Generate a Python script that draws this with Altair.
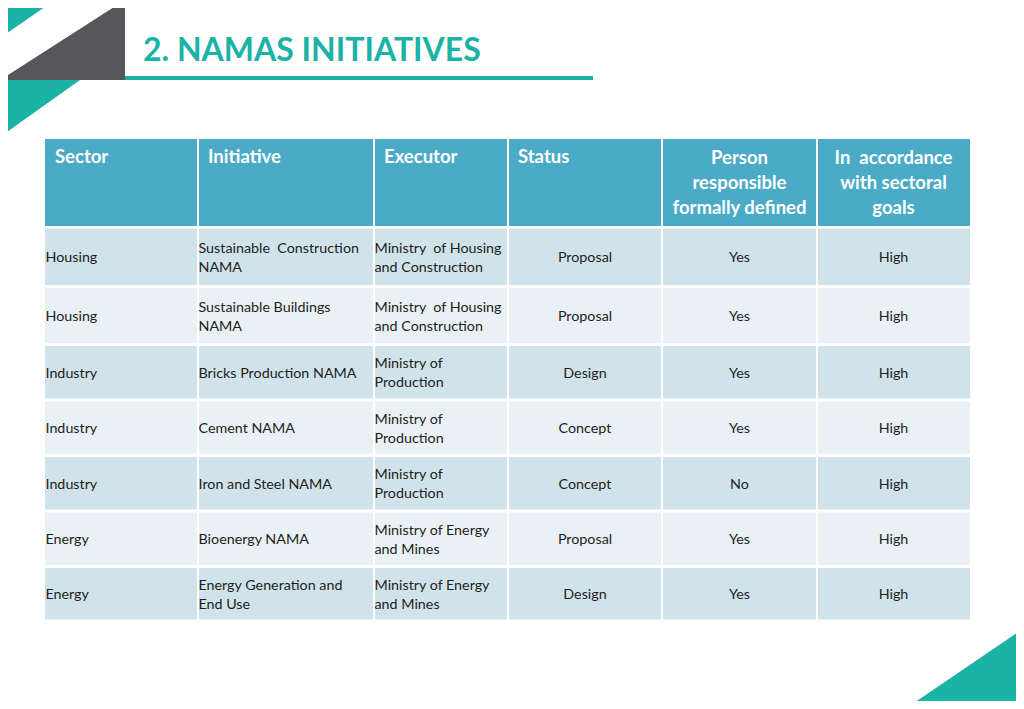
import altair as alt
import pandas as pd

# ---------------- data ----------------
title_text = "2. NAMAS INITIATIVES"
headers = ["Sector", "Initiative", "Executor", "Status",
           "Person\nresponsible\nformally defined",
           "In\u00a0 accordance\nwith sectoral\ngoals"]
sectors = ["Housing", "Housing", "Industry", "Industry", "Industry", "Energy", "Energy"]
initiatives = ["Sustainable\u00a0 Construction\nNAMA", "Sustainable Buildings\nNAMA",
               "Bricks Production NAMA", "Cement NAMA", "Iron and Steel NAMA",
               "Bioenergy NAMA", "Energy Generation and\nEnd Use"]
executors = ["Ministry\u00a0 of Housing\nand Construction", "Ministry\u00a0 of Housing\nand Construction",
             "Ministry of\nProduction", "Ministry of\nProduction", "Ministry of\nProduction",
             "Ministry of Energy\nand Mines", "Ministry of Energy\nand Mines"]
statuses = ["Proposal", "Proposal", "Design", "Concept", "Concept", "Proposal", "Design"]
persons = ["Yes", "Yes", "Yes", "Yes", "No", "Yes", "Yes"]
accordance = ["High", "High", "High", "High", "High", "High", "High"]

# ---------------- layout (page pixel space) ----------------
OFF = 8
W, H = 1008, 693
col_edges = [45, 198, 374, 508, 662, 817, 970]
header_top, header_bottom = 139, 226
row_edges = [227, 286.5, 344.5, 400, 455.5, 511, 566.5, 621]
TEAL = "#1bb3a6"
GRAY = "#56565b"
HEAD = "#4babc7"
ROW_DARK = "#d1e3ea"
ROW_LIGHT = "#e9f1f5"
FONT = "Lato"
BODY_SIZE = 14.3
BODY_LH = 19
BODY_SHIFT = 1.5
HEAD_SIZE = 18.5
HEAD_LH = 25

xs = alt.Scale(domain=[OFF, OFF + W], range=[0, W], nice=False, zero=False)
ys = alt.Scale(domain=[OFF, OFF + H], range=[0, H], nice=False, zero=False)

def X(f="x"):
    return alt.X(f"{f}:Q", scale=xs, axis=None)

def Y(f="y"):
    return alt.Y(f"{f}:Q", scale=ys, axis=None)

def first_line_y(center, text, lh):
    n = text.count("\n") + 1
    return center - (n - 1) * lh / 2

# decorative triangles as areas
shapes = []
def tri(name, pts, fill):
    for (x, y, y2) in pts:
        shapes.append(dict(shape=name, x=x, y=y, y2=y2, fill=fill))
tri("tl", [(0, 0, 38), (55, 0, 0)], TEAL)
tri("gray", [(0, 80, 80), (125, 0, 80)], GRAY)
tri("bl", [(0, 80, 137), (80, 80, 80)], TEAL)
tri("br", [(905, 709, 709), (1024, 628, 709)], TEAL)
shape_df = pd.DataFrame(shapes)

areas = alt.Chart(shape_df).mark_area(interpolate="linear", opacity=1).encode(
    x=X(), y=Y(), y2="y2:Q",
    color=alt.Color("fill:N", scale=None),
    detail="shape:N",
)

underline = alt.Chart(pd.DataFrame([dict(x=125, x2=593, y=78)])).mark_rule(
    color=TEAL, strokeWidth=4).encode(x=X(), x2="x2:Q", y=Y())

title = alt.Chart(pd.DataFrame([dict(x=143, y=51, t=title_text)])).mark_text(
    align="left", baseline="middle", font=FONT, fontWeight="bold", fontSize=32,
    color=TEAL).encode(x=X(), y=Y(), text="t:N")

# cells
cells = []
for c in range(6):
    x0 = col_edges[c] + (0 if c == 0 else 1)
    x1 = col_edges[c + 1] - (0 if c == 5 else 1)
    cells.append(dict(x=x0, x2=x1, y=header_top, y2=header_bottom, fill=HEAD))
    for r in range(7):
        cells.append(dict(x=x0, x2=x1, y=row_edges[r] + 1.5, y2=row_edges[r + 1] - 1.5,
                          fill=ROW_DARK if r % 2 == 0 else ROW_LIGHT))
cell_df = pd.DataFrame(cells)
rects = alt.Chart(cell_df).mark_rect().encode(
    x=X(), x2="x2:Q", y=Y(), y2="y2:Q", color=alt.Color("fill:N", scale=None))

# header texts
hl = pd.DataFrame([dict(x=col_edges[c] + 10, y=157, t=headers[c]) for c in range(4)])
hc = pd.DataFrame([dict(x=(col_edges[c] + col_edges[c + 1]) / 2,
                        y=first_line_y(183, headers[c], HEAD_LH), t=headers[c])
                   for c in (4, 5)])
head_left = alt.Chart(hl).mark_text(
    align="left", baseline="middle", font=FONT, fontWeight="bold", fontSize=HEAD_SIZE,
    color="white").encode(x=X(), y=Y(), text="t:N")
head_center = alt.Chart(hc).mark_text(
    align="center", baseline="middle", font=FONT, fontWeight="bold", fontSize=HEAD_SIZE,
    lineHeight=HEAD_LH, lineBreak="\n", color="white").encode(x=X(), y=Y(), text="t:N")

# body texts
left_rows, center_rows = [], []
for r in range(7):
    yc = (row_edges[r] + row_edges[r + 1]) / 2 + BODY_SHIFT
    for c, col in ((0, sectors), (1, initiatives), (2, executors)):
        left_rows.append(dict(x=col_edges[c] + 0.5,
                              y=first_line_y(yc, col[r], BODY_LH), t=col[r]))
    for c, col in ((3, statuses), (4, persons), (5, accordance)):
        center_rows.append(dict(x=(col_edges[c] + col_edges[c + 1]) / 2,
                                y=first_line_y(yc, col[r], BODY_LH), t=col[r]))
body_left = alt.Chart(pd.DataFrame(left_rows)).mark_text(
    align="left", baseline="middle", font=FONT, fontSize=BODY_SIZE, lineHeight=BODY_LH,
    lineBreak="\n", color="#1e1e1e").encode(x=X(), y=Y(), text="t:N")
body_center = alt.Chart(pd.DataFrame(center_rows)).mark_text(
    align="center", baseline="middle", font=FONT, fontSize=BODY_SIZE, lineHeight=BODY_LH,
    lineBreak="\n", color="#1e1e1e").encode(x=X(), y=Y(), text="t:N")

chart = alt.layer(areas, underline, title, rects, head_left, head_center,
                  body_left, body_center).properties(
    width=W, height=H, padding=0, autosize=alt.AutoSizeParams(type="none"),
    background="white",
).configure_view(stroke=None)

chart.save("out.html", embed_options={"renderer": "svg", "actions": False})
